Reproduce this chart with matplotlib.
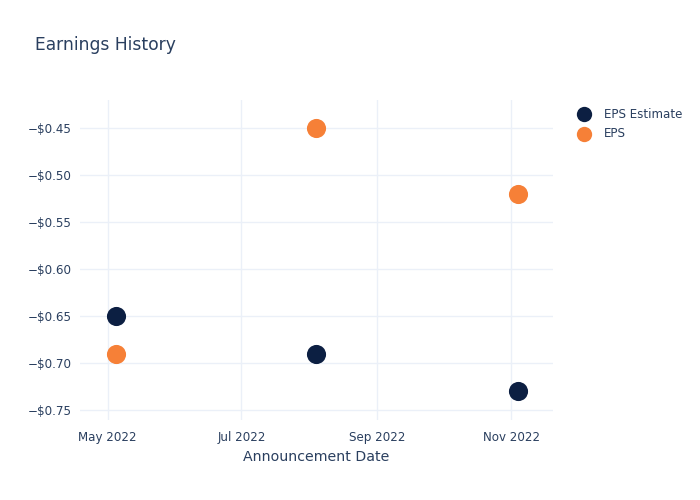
import matplotlib
matplotlib.use('Agg')
import matplotlib.pyplot as plt
import matplotlib.dates as mdates
from matplotlib.ticker import FuncFormatter
from datetime import datetime

# data
dates = [datetime(2022, 5, 5), datetime(2022, 8, 4), datetime(2022, 11, 4)]
eps_estimate = [-0.65, -0.69, -0.73]
eps_actual = [-0.69, -0.45, -0.52]

text_color = '#2a3f5f'
grid_color = '#ebf0f8'
navy = '#0c1f42'
orange = '#f68037'

fig = plt.figure(figsize=(7, 5), dpi=100)
ax = fig.add_axes([0.1143, 0.16, 0.6757, 0.64])

ax.scatter(dates, eps_estimate, s=190, color=navy, label='EPS Estimate', zorder=3, linewidths=0)
ax.scatter(dates, eps_actual, s=190, color=orange, label='EPS', zorder=3, linewidths=0)

ax.set_xlim(datetime(2022, 4, 18, 10), datetime(2022, 11, 20))
ax.set_ylim(-0.7607, -0.4199)

ax.xaxis.set_major_locator(mdates.MonthLocator(bymonth=[5, 7, 9, 11]))
ax.xaxis.set_major_formatter(mdates.DateFormatter('%b %Y'))
ax.set_yticks([-0.45, -0.5, -0.55, -0.6, -0.65, -0.7, -0.75])
ax.yaxis.set_major_formatter(FuncFormatter(
    lambda v, p: ('\u2212' if v < 0 else '') + '$%.2f' % abs(v)))

for s in ax.spines.values():
    s.set_visible(False)
ax.grid(True, color=grid_color, linewidth=1)
ax.set_axisbelow(True)
ax.tick_params(length=0, labelsize=8.6, colors=text_color, pad=6)
ax.tick_params(axis='x', pad=8)

ax.set_xlabel('Announcement Date', fontsize=10.2, color=text_color, labelpad=4.5)
fig.text(0.05, 0.91, 'Earnings History', fontsize=12.3, color=text_color, va='center')

leg = ax.legend(loc='upper left', bbox_to_anchor=(0.817, 0.785), bbox_transform=fig.transFigure,
                frameon=False, fontsize=8.6, labelcolor=text_color, markerscale=0.8,
                handletextpad=0.7, labelspacing=0.55, borderaxespad=0, borderpad=0)

plt.savefig('out.png', dpi=100)
